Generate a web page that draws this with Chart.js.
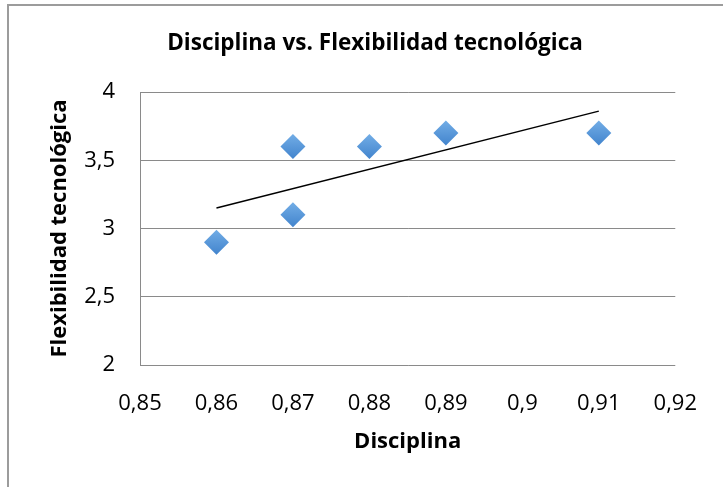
<!DOCTYPE html>
<html>
<head>
<meta charset="utf-8">
<title>Disciplina vs. Flexibilidad tecnológica</title>
<script src="https://cdn.jsdelivr.net/npm/chart.js@4.4.1/dist/chart.umd.min.js"></script>
<style>
  html, body { margin: 0; padding: 0; background: #ffffff; }
  #wrap { width: 723px; height: 487px; }
</style>
</head>
<body>
<div id="wrap"><canvas id="c" width="723" height="487"></canvas></div>
<script>
// Observations: discipline score (x) against technological flexibility (y)
const disciplina   = [0.86, 0.87, 0.87, 0.88, 0.89, 0.91];
const flexibilidad = [2.9, 3.1, 3.6, 3.6, 3.7, 3.7];

// Linear trendline end points
const trendX = [0.86, 0.91];
const trendY = [3.15, 3.86];

// Axis tick labels (decimal comma)
const xTickLabels = ['0,85', '0,86', '0,87', '0,88', '0,89', '0,9', '0,91', '0,92'];
const yTickLabels = ['2', '2,5', '3', '3,5', '4'];

const FONT = "'Open Sans', 'DejaVu Sans', sans-serif";
const GRID = '#8a8a8a';

const points = disciplina.map((x, i) => ({ x, y: flexibilidad[i] }));
const trend = trendX.map((x, i) => ({ x, y: trendY[i] }));

const MARKER_R = 12.5;

// Vertical light-to-dark fill for each diamond marker
function markerFill(ctx) {
  const chart = ctx.chart;
  const ys = chart.scales && chart.scales.y;
  if (!ys || !ctx.raw) return '#5b9bd5';
  const py = ys.getPixelForValue(ctx.raw.y);
  if (!Number.isFinite(py)) return '#5b9bd5';
  const g = chart.ctx.createLinearGradient(0, py - MARKER_R, 0, py + MARKER_R);
  g.addColorStop(0, '#72ade6');
  g.addColorStop(1, '#4284cd');
  return g;
}

// Thin grey frame around the chart
const framePlugin = {
  id: 'frame',
  beforeDraw(chart) {
    const c = chart.ctx;
    c.save();
    c.strokeStyle = '#9c9c9c';
    c.lineWidth = 2;
    c.beginPath();
    c.moveTo(8, 487);
    c.lineTo(8, 5);
    c.lineTo(723, 5);
    c.stroke();
    c.restore();
  }
};

// Shift the title block so the heading sits over the plot
const titleShift = {
  id: 'titleShift',
  afterLayout(chart) {
    const t = chart.titleBlock;
    if (t) { t.left += 35; t.right += 35; }
  }
};

new Chart(document.getElementById('c'), {
  type: 'scatter',
  data: {
    datasets: [
      {
        label: 'Flexibilidad tecnológica',
        data: points,
        pointStyle: 'rectRot',
        pointRadius: MARKER_R,
        pointHoverRadius: MARKER_R,
        pointBorderWidth: 0,
        backgroundColor: markerFill,
        borderColor: 'rgba(0,0,0,0)',
        order: 2
      },
      {
        label: 'Lineal',
        type: 'line',
        data: trend,
        showLine: true,
        pointRadius: 0,
        borderColor: '#000000',
        borderWidth: 1.5,
        fill: false,
        order: 1
      }
    ]
  },
  options: {
    responsive: false,
    animation: false,
    layout: { padding: { left: 0, right: 43, top: 0, bottom: 0 } },
    plugins: {
      legend: { display: false },
      tooltip: { enabled: false },
      title: {
        display: true,
        text: 'Disciplina vs. Flexibilidad tecnológica',
        color: '#000000',
        font: { family: FONT, size: 22.5, weight: 'bold', lineHeight: 1.2 },
        padding: { top: 30.5, bottom: 34.5 }
      }
    },
    scales: {
      x: {
        type: 'linear',
        min: 0.85,
        max: 0.92,
        afterFit(scale) { scale.height = 122; },
        grid: { display: false, drawTicks: false },
        border: { display: false },
        ticks: {
          stepSize: 0.01,
          autoSkip: false,
          maxRotation: 0,
          padding: 26,
          color: '#000000',
          font: { family: FONT, size: 22, lineHeight: 1.2 },
          callback: (v, i) => xTickLabels[i]
        },
        title: {
          display: true,
          text: 'Disciplina',
          color: '#000000',
          font: { family: FONT, size: 22, weight: 'bold', lineHeight: 1.2 },
          padding: { top: 0, bottom: 32 }
        }
      },
      y: {
        type: 'linear',
        min: 2,
        max: 4,
        afterFit(scale) { scale.width = 140; },
        grid: { color: GRID, lineWidth: 1, drawTicks: false },
        border: { display: true, color: GRID, width: 1 },
        ticks: {
          stepSize: 0.5,
          padding: 25,
          color: '#000000',
          font: { family: FONT, size: 22, lineHeight: 1.2 },
          callback: (v, i) => yTickLabels[i]
        },
        title: {
          display: true,
          text: 'Flexibilidad tecnológica',
          color: '#000000',
          font: { family: FONT, size: 22, weight: 'bold', lineHeight: 1.2 },
          padding: { top: 47, bottom: 0 }
        }
      }
    }
  },
  plugins: [framePlugin, titleShift]
});
</script>
</body>
</html>
